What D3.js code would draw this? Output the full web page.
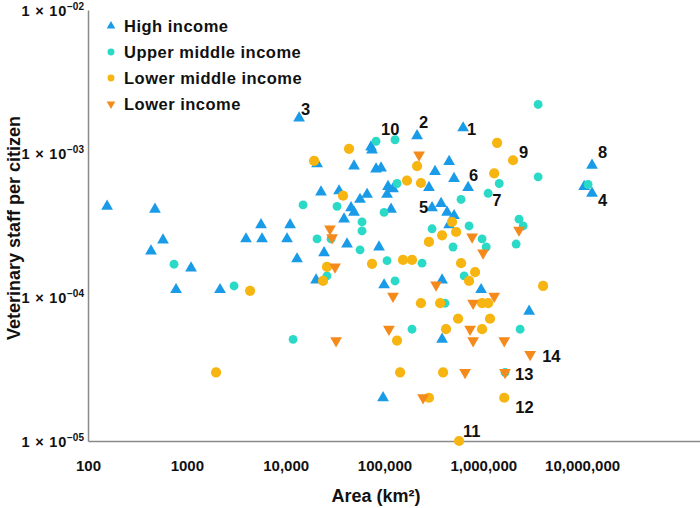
<!DOCTYPE html>
<html><head><meta charset="utf-8">
<script src="https://cdn.jsdelivr.net/npm/d3@7"></script>
<style>
body{margin:0;background:#fff}
svg{display:block}
text{font-family:"Liberation Sans",Arial,Helvetica,sans-serif;font-weight:bold;fill:#111}
</style>
</head><body>
<svg id="chart" width="700" height="508"></svg>
<script>
// ---------- data: [area km², veterinary staff per citizen] ----------
const categories = ["High income", "Upper middle income", "Lower middle income", "Lower income"];

const highIncome = [
  [156,4.3e-4],[476,4.1e-4],[574,2.5e-4],[434,2.1e-4],[1104,1.6e-4],[778,1.13e-4],[2168,1.13e-4],
  [5636,3.2e-4],[11090,3.2e-4],[3972,2.55e-4],[5768,2.55e-4],[10330,2.55e-4],[13040,1.85e-4],[20320,1.32e-4],
  [13680,1.77e-3],[20800,8.5e-4],[22800,5.4e-4],[24480,2.04e-4],[34700,5.5e-4],[49200,8.2e-4],[73100,1.11e-3],
  [74800,1.06e-3],[82200,7.8e-4],[92400,7.94e-4],[108700,5.9e-4],[122200,5.7e-4],[106200,5.2e-4],[66700,5.2e-4],
  [56600,4.8e-4],[45900,4.2e-4],[49200,3.9e-4],[116700,4.1e-4],[39000,3.5e-4],[41800,2.35e-4],[88100,2.24e-4],
  [99100,1.22e-4],[213800,1.33e-3],[625000,1.51e-3],[451000,8.8e-4],[325000,7.5e-4],[506000,6.7e-4],[282000,5.8e-4],
  [702000,5.8e-4],[303000,4.2e-4],[374000,4.5e-4],[430000,3.9e-4],[506000,3.7e-4],[451000,3.2e-4],[383000,1.32e-4],
  [950000,1.13e-4],[383000,5.1e-5],[96800,2.0e-5],[2910000,8.0e-5],[12600000,8.3e-4],[10500000,5.9e-4],[12600000,5.3e-4]
];

const upperMiddleIncome = [
  [742,1.7e-4],[3006,1.2e-4],[15000,4.4e-4],[20800,2.55e-4],[26200,1.41e-4],[11900,5.1e-5],[82200,1.22e-3],
  [128000,1.25e-3],[134000,6.2e-4],[33100,4.3e-4],[99100,3.9e-4],[59300,3.35e-4],[59300,2.9e-4],[28800,2.55e-4],
  [56600,2.14e-4],[106200,1.8e-4],[128000,1.3e-4],[190000,6.0e-5],[303000,3.0e-4],[718000,3.14e-4],[494000,2.24e-4],
  [972000,2.55e-4],[1070000,2.24e-4],[240000,1.73e-4],[640000,1.41e-4],[410000,9.1e-5],[596000,4.8e-4],[1450000,6.2e-4],
  [1120000,5.3e-4],[3590000,2.2e-3],[3590000,6.9e-4],[11500000,6.1e-4],[2300000,3.5e-4],[2530000,3.14e-4],
  [2150000,2.35e-4],[2360000,6.0e-5],[1660000,3.0e-5]
];

const lowerMiddleIncome = [
  [4365,1.11e-4],[1977,3.0e-5],[19400,8.9e-4],[26200,1.63e-4],[23900,1.3e-4],[43800,1.08e-3],[38100,5.1e-4],
  [74800,1.71e-4],[154000,1.82e-4],[190000,1.82e-4],[169000,6.5e-4],[234000,6.25e-4],[213800,8.2e-4],[1380000,1.19e-3],
  [2000000,9.0e-4],[1290000,7.3e-4],[483000,3.35e-4],[383000,2.7e-4],[531000,2.85e-4],[282000,2.43e-4],[596000,1.73e-4],
  [826000,1.5e-4],[718000,1.3e-4],[234000,9.1e-5],[366000,9.1e-5],[972000,9.1e-5],[1120000,9.1e-5],[556000,7.1e-5],
  [1170000,7.1e-5],[420000,6.0e-5],[972000,6.0e-5],[134000,5.0e-5],[144000,3.0e-5],[392000,3.0e-5],[282000,2.0e-5],
  [1630000,2.0e-5],[569000,1.0e-5],[4030000,1.2e-4]
];

const lowerIncome = [
  [224000,9.8e-4],[28100,3.0e-4],[29500,2.6e-4],[31600,1.63e-4],[122000,1.02e-4],[333000,1.22e-4],[771000,2.63e-4],
  [995000,2.04e-4],[2300000,2.94e-4],[1290000,1.02e-4],[789000,9.1e-5],[111000,6.0e-5],[735000,6.0e-5],[32400,5.0e-5],
  [789000,5.0e-5],[1630000,5.0e-5],[654000,3.0e-5],[1660000,3.0e-5],[246000,2.0e-5],[2980000,4.0e-5]
];

// numbered annotations attached to points
const pointLabels = [
  {text:"1",  area:625000,   staff:1.51e-3},
  {text:"2",  area:213800,   staff:1.33e-3},
  {text:"3",  area:13680,    staff:1.77e-3},
  {text:"4",  area:12600000, staff:5.3e-4},
  {text:"5",  area:303000,   staff:4.2e-4},
  {text:"6",  area:702000,   staff:5.8e-4},
  {text:"7",  area:1120000,  staff:5.3e-4},
  {text:"8",  area:12600000, staff:8.3e-4},
  {text:"9",  area:2000000,  staff:9.0e-4},
  {text:"10", area:82200,    staff:1.22e-3},
  {text:"11", area:569000,   staff:1.0e-5},
  {text:"12", area:1630000,  staff:2.0e-5},
  {text:"13", area:1660000,  staff:3.0e-5},
  {text:"14", area:2980000,  staff:4.0e-5}
];

const xTickValues = [100, 1000, 10000, 100000, 1000000, 10000000];
const xTickLabels = ["100", "1000", "10,000", "100,000", "1,000,000", "10,000,000"];
const yTickValues = [1e-5, 1e-4, 1e-3, 1e-2];
const yTickExponents = ["\u221205", "\u221204", "\u221203", "\u221202"];

// ---------- layout / style ----------
const svg = d3.select("#chart");
const colors = {"High income":"#1a9be8","Upper middle income":"#2ad9c6","Lower middle income":"#f6b511","Lower income":"#f58a1c"};
const shapes = {"High income":"up","Upper middle income":"circle","Lower middle income":"circle","Lower income":"down"};
const sizes = {"High income":60,"Upper middle income":62,"Lower middle income":82,"Lower income":60};

const x = d3.scaleLog().domain([100, 1.56e8]).range([88, 700]);
const y = d3.scaleLog().domain([1e-5, 1e-2]).range([441, 10]);

// axes (lines + custom labels, no tick marks)
const xAxis = d3.axisBottom(x).tickValues(xTickValues).tickSize(0).tickFormat((d,i)=>xTickLabels[i]);
const gx = svg.append("g").attr("transform","translate(0,441)").call(xAxis);
gx.select(".domain").attr("stroke","#8a8a8a").attr("stroke-width",1.5);
gx.selectAll("text").attr("dy",null).attr("y",30).style("font-size","15px").attr("fill","#111")
  .style("font-family",'"Liberation Sans",Arial,sans-serif').style("font-weight","bold");

const yAxis = d3.axisLeft(y).tickValues(yTickValues).tickSize(0).tickFormat(()=> "");
const gy = svg.append("g").attr("transform","translate(88,0)").call(yAxis);
gy.select(".domain").attr("stroke","#8a8a8a").attr("stroke-width",1.5);
gy.selectAll(".tick").each(function(d,i){
  const t = d3.select(this).append("text").attr("x",-4).attr("y",5).attr("text-anchor","end")
    .style("font-size","14.5px").attr("fill","#111");
  t.append("tspan").style("letter-spacing","0.8px").text("1 \u00d7 10");
  t.append("tspan").attr("dy",-6).style("font-size","10px").text(yTickExponents[i]);
});

// axis titles
svg.append("text").attr("x",376).attr("y",502).attr("text-anchor","middle").style("font-size","18px")
  .text("Area (km\u00b2)");
svg.append("text").attr("transform","translate(20,228) rotate(-90)").attr("text-anchor","middle")
  .style("font-size","18px").text("Veterinary staff per citizen");

// points
function symbolPath(cat, size){
  const s = shapes[cat];
  if (s === "circle") return d3.symbol().type(d3.symbolCircle).size(size)();
  return d3.symbol().type(d3.symbolTriangle).size(size)();
}
const seriesList = [
  {cat:"High income", data:highIncome},
  {cat:"Upper middle income", data:upperMiddleIncome},
  {cat:"Lower middle income", data:lowerMiddleIncome},
  {cat:"Lower income", data:lowerIncome}
];
const gp = svg.append("g");
seriesList.forEach(s=>{
  gp.selectAll(null).data(s.data).enter().append("path")
    .attr("d", symbolPath(s.cat, sizes[s.cat]))
    .attr("transform", d=>`translate(${x(d[0])},${y(d[1])})${shapes[s.cat]==="down"?" rotate(180)":""}`)
    .attr("fill", colors[s.cat]);
});

// numbered labels
const labelOffsets = {"1":[4,7],"2":[2,-8],"3":[2,-3],"4":[6,13],"5":[-13,5],"6":[1,-7],"7":[4,13],
  "8":[6,-7],"9":[6,-2],"10":[5,-6],"11":[4,-4],"12":[11,15],"13":[10,8],"14":[12,7]};
svg.append("g").selectAll("text").data(pointLabels).enter().append("text")
  .attr("x", d=>x(d.area)+labelOffsets[d.text][0])
  .attr("y", d=>y(d.staff)+labelOffsets[d.text][1])
  .style("font-size","16.5px").text(d=>d.text);

// legend
const lg = svg.append("g");
categories.forEach((c,i)=>{
  const cy = 26 + i*26;
  const legSize = shapes[c]==="circle" ? 38 : 32;
  lg.append("path").attr("d", symbolPath(c, legSize))
    .attr("transform", `translate(111,${cy})${shapes[c]==="down"?" rotate(180)":""}`)
    .attr("fill", colors[c]);
  lg.append("text").attr("x",124).attr("y",cy+6).style("font-size","16.5px")
    .style("letter-spacing","0.5px").text(c);
});
</script>
</body></html>
